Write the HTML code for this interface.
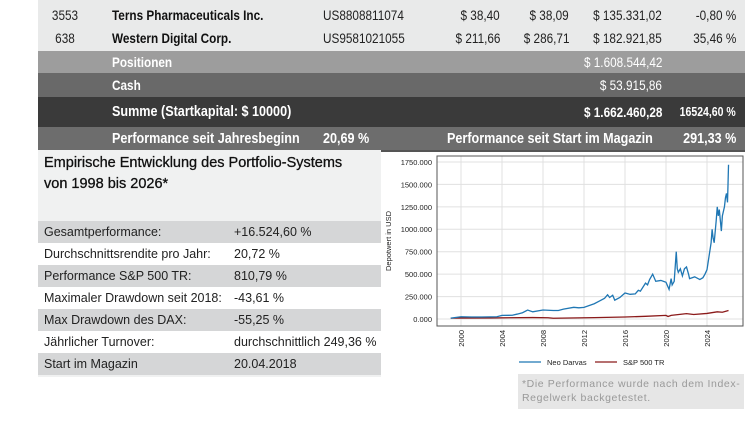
<!DOCTYPE html>
<html><head><meta charset="utf-8"><style>
body{margin:0;width:750px;height:421px;background:#fff;position:relative;overflow:hidden;font-family:"Liberation Sans",sans-serif}
.n{position:absolute;font-size:14px;white-space:nowrap;transform:scaleX(0.84);transform-origin:left center}
.r{transform-origin:right center}
.c{transform-origin:center center}
.row{position:absolute;left:38px;width:707px}
.b{font-weight:bold}
.lp{position:absolute;left:38px;top:150px;width:343px;height:227px;background:#f0f1f1}
.st{position:absolute;left:38px;width:343px;height:22px;font-size:12.5px;color:#222}
.st span{position:absolute;top:4px}
</style></head><body>
<div class="row" style="top:0;height:51px;background:#e9eaea"></div>
<div class="n c" style="left:42px;top:7px;width:46px;text-align:center;color:#222">3553</div>
<div class="n b" style="left:112px;top:7px;color:#111">Terns Pharmaceuticals Inc.</div>
<div class="n" style="left:323px;top:7px;color:#222">US8808811074</div>
<div class="n r" style="right:250px;top:7px;color:#222">$ 38,40</div>
<div class="n r" style="right:181px;top:7px;color:#222">$ 38,09</div>
<div class="n r" style="right:88px;top:7px;color:#222">$ 135.331,02</div>
<div class="n r" style="right:14px;top:7px;color:#222">-0,80 %</div>
<div class="n c" style="left:42px;top:30px;width:46px;text-align:center;color:#222">638</div>
<div class="n b" style="left:112px;top:30px;color:#111">Western Digital Corp.</div>
<div class="n" style="left:323px;top:30px;color:#222">US9581021055</div>
<div class="n r" style="right:250px;top:30px;color:#222">$ 211,66</div>
<div class="n r" style="right:181px;top:30px;color:#222">$ 286,71</div>
<div class="n r" style="right:88px;top:30px;color:#222">$ 182.921,85</div>
<div class="n r" style="right:14px;top:30px;color:#222">35,46 %</div>
<div class="row" style="top:51px;height:22px;background:#9d9d9d"></div>
<div class="n b" style="left:112px;top:54px;color:#fff">Positionen</div>
<div class="n r" style="right:88px;top:54px;color:#fff">$ 1.608.544,42</div>
<div class="row" style="top:73px;height:24px;background:#696969"></div>
<div class="n b" style="left:112px;top:77px;color:#fff">Cash</div>
<div class="n r" style="right:88px;top:77px;color:#fff">$ 53.915,86</div>
<div class="row" style="top:97px;height:30px;background:#3a3a3a"></div>
<div class="n b" style="left:112px;top:103px;color:#fff;font-size:15px">Summe (Startkapital: $ 10000)</div>
<div class="n b r" style="right:88px;top:104px;color:#fff">$ 1.662.460,28</div>
<div class="n b r" style="right:14px;top:105px;color:#fff;font-size:12.5px">16524,60 %</div>
<div class="row" style="top:127px;height:23px;background:#6d6d6d"></div>
<div class="n b" style="left:112px;top:130px;color:#fff;font-size:15px">Performance seit Jahresbeginn</div>
<div class="n b" style="left:323px;top:130px;color:#fff;font-size:15px">20,69 %</div>
<div class="n b" style="left:447px;top:130px;color:#fff;font-size:15px">Performance seit Start im Magazin</div>
<div class="n b r" style="right:14px;top:130px;color:#fff;font-size:15px">291,33 %</div>
<div style="position:absolute;left:38px;top:150px;width:707px;height:2px;background:#555"></div>

<div class="lp"></div>
<div style="position:absolute;left:44px;top:153px;font-size:14.5px;line-height:21px;color:#111;-webkit-text-stroke:0.3px #111">Empirische Entwicklung des Portfolio-Systems<br>von 1998 bis 2026*</div>
<div class="st" style="top:221px;background:#d5d6d7"><span style="left:6px">Gesamtperformance:</span><span style="left:196px">+16.524,60 %</span></div>
<div class="st" style="top:243px;background:#fff"><span style="left:6px">Durchschnittsrendite pro Jahr:</span><span style="left:196px">20,72 %</span></div>
<div class="st" style="top:265px;background:#d5d6d7"><span style="left:6px">Performance S&amp;P 500 TR:</span><span style="left:196px">810,79 %</span></div>
<div class="st" style="top:287px;background:#fff"><span style="left:6px">Maximaler Drawdown seit 2018:</span><span style="left:196px">-43,61 %</span></div>
<div class="st" style="top:309px;background:#d5d6d7"><span style="left:6px">Max Drawdown des DAX:</span><span style="left:196px">-55,25 %</span></div>
<div class="st" style="top:331px;background:#fff"><span style="left:6px">Jährlicher Turnover:</span><span style="left:196px">durchschnittlich 249,36 %</span></div>
<div class="st" style="top:353px;background:#d5d6d7"><span style="left:6px">Start im Magazin</span><span style="left:196px">20.04.2018</span></div>

<svg style="position:absolute;left:0;top:0" width="750" height="421" font-family="Liberation Sans,sans-serif">
<g stroke="#e0e0e0" stroke-width="1">
<line x1="437" x2="743" y1="319" y2="319"/><line x1="437" x2="743" y1="296.6" y2="296.6"/><line x1="437" x2="743" y1="274.1" y2="274.1"/><line x1="437" x2="743" y1="251.7" y2="251.7"/><line x1="437" x2="743" y1="229.3" y2="229.3"/><line x1="437" x2="743" y1="206.9" y2="206.9"/><line x1="437" x2="743" y1="184.4" y2="184.4"/><line x1="437" x2="743" y1="162" y2="162"/>
<line x1="461" x2="461" y1="156" y2="326"/><line x1="502" x2="502" y1="156" y2="326"/><line x1="543" x2="543" y1="156" y2="326"/><line x1="584" x2="584" y1="156" y2="326"/><line x1="625" x2="625" y1="156" y2="326"/><line x1="666" x2="666" y1="156" y2="326"/><line x1="707" x2="707" y1="156" y2="326"/>
</g>
<rect x="437" y="156" width="306" height="170" fill="none" stroke="#555" stroke-width="1"/>
<g font-size="7.5" fill="#222" text-anchor="end">
<text x="432" y="322">0.000</text><text x="432" y="299.5">250.000</text><text x="432" y="277">500.000</text><text x="432" y="254.6">750.000</text><text x="432" y="232.2">1000.000</text><text x="432" y="209.8">1250.000</text><text x="432" y="187.3">1500.000</text><text x="432" y="165">1750.000</text>
</g>
<g font-size="7.5" fill="#222" text-anchor="end">
<text transform="translate(464,330) rotate(-90)">2000</text><text transform="translate(505,330) rotate(-90)">2004</text><text transform="translate(546,330) rotate(-90)">2008</text><text transform="translate(587,330) rotate(-90)">2012</text><text transform="translate(628,330) rotate(-90)">2016</text><text transform="translate(669,330) rotate(-90)">2020</text><text transform="translate(710,330) rotate(-90)">2024</text>
</g>
<text transform="translate(391,241) rotate(-90)" font-size="7.5" fill="#222" text-anchor="middle">Depotwert in USD</text>
<g transform="translate(461,319) scale(10.25,-0.0897)">
<polyline vector-effect="non-scaling-stroke" fill="none" stroke="#8b1a1a" stroke-width="1.3" points="-1,10 3,12 7,16 8.5,14 9,8 13,15 16,22 18,30 20,40 20.2,28 20.5,40 22,60 22.7,50 24,62 25,80 25.5,75 26.1,95"/>
<polyline vector-effect="non-scaling-stroke" fill="none" stroke="#1f77b4" stroke-width="1.3" points="-1,10 0,25 1,22 2,22 3.5,25 4,40 5,42 5.5,55 6,70 6.5,100 7,80 8,100 9,95 9.5,95 10,110 11,130 11.5,125 12,130 13,170 13.5,200 14,230 14.3,270 14.5,240 14.8,265 15,210 15.5,240 16,290 16.5,275 17,280 17.3,320 17.5,310 18,400 18.2,380 18.4,440 18.7,500 19,420 19.5,430 20,410 20.3,330 20.5,450 20.6,380 20.8,420 21,750 21.1,560 21.2,520 21.4,560 21.6,480 21.8,560 22,580 22.2,500 22.3,450 22.8,470 23.3,440 23.6,460 23.8,500 24,550 24.2,700 24.4,850 24.5,1000 24.6,900 24.7,850 24.9,1100 25,1250 25.1,1150 25.2,1220 25.3,1100 25.4,980 25.5,1150 25.7,1250 25.8,1350 25.9,1400 26,1300 26.05,1500 26.1,1720"/>
</g>
<line x1="519" x2="541" y1="362" y2="362" stroke="#1f77b4" stroke-width="1.3"/>
<text x="547" y="365" font-size="7.5" fill="#222">Neo Darvas</text>
<line x1="595" x2="617" y1="362" y2="362" stroke="#8b1a1a" stroke-width="1.3"/>
<text x="623" y="365" font-size="7.5" fill="#222">S&amp;P 500 TR</text>
</svg>
<div style="position:absolute;left:518px;top:374px;width:226px;height:35px;background:#e6e6e6"></div>
<div style="position:absolute;left:522px;top:377px;font-size:10.5px;line-height:14px;color:#999;letter-spacing:0.6px">*Die Performance wurde nach dem Index-<br>Regelwerk backgetestet.</div>
</body></html>
